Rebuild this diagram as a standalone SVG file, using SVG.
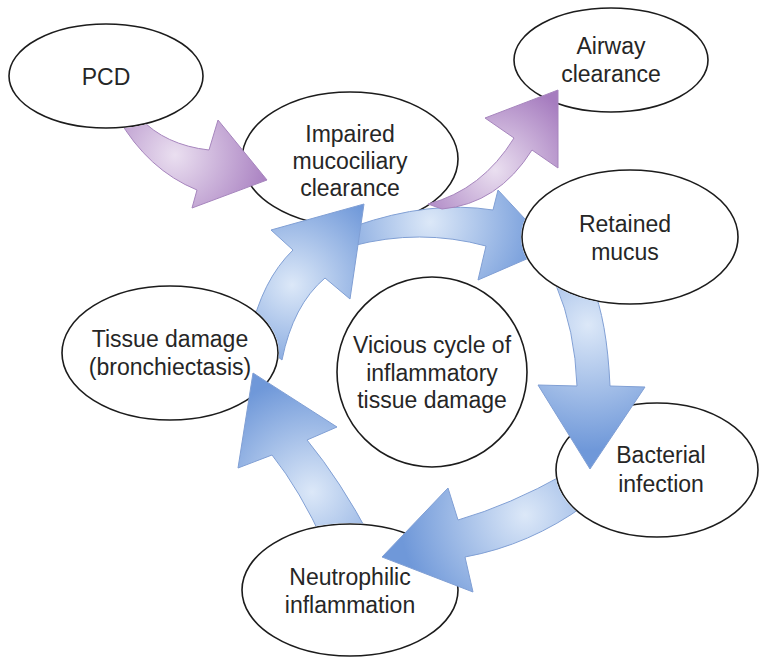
<svg xmlns="http://www.w3.org/2000/svg" width="760" height="658" viewBox="0 0 760 658">
  <style>
    .node ellipse, .node circle { fill:#ffffff; stroke:#1c1c1c; stroke-width:1.6; }
    .node text { font-family:"Liberation Sans", Arial, sans-serif; font-size:23px; fill:#262626; text-anchor:middle; }
    .blue { stroke:#809fd4; stroke-width:1; stroke-linejoin:round; }
    .purple { stroke:#a685bd; stroke-width:1; stroke-linejoin:round; }
  </style>
  <defs>
    <!-- shading for the cycle arrows: pale in the middle of the shaft, deeper blue towards the ends -->
    <radialGradient id="gA1" gradientUnits="userSpaceOnUse" cx="430" cy="222" r="115">
      <stop offset="0" stop-color="#dce8f8"/><stop offset="1" stop-color="#6f98d9"/>
    </radialGradient>
    <radialGradient id="gA2" gradientUnits="userSpaceOnUse" cx="588" cy="325" r="125">
      <stop offset="0" stop-color="#dce8f8"/><stop offset="1" stop-color="#6f98d9"/>
    </radialGradient>
    <radialGradient id="gA3" gradientUnits="userSpaceOnUse" cx="525" cy="515" r="125">
      <stop offset="0" stop-color="#dce8f8"/><stop offset="1" stop-color="#6f98d9"/>
    </radialGradient>
    <radialGradient id="gA4" gradientUnits="userSpaceOnUse" cx="312" cy="492" r="115">
      <stop offset="0" stop-color="#dce8f8"/><stop offset="1" stop-color="#6f98d9"/>
    </radialGradient>
    <radialGradient id="gA5" gradientUnits="userSpaceOnUse" cx="292" cy="285" r="105">
      <stop offset="0" stop-color="#dce8f8"/><stop offset="1" stop-color="#6f98d9"/>
    </radialGradient>
    <radialGradient id="gP1" gradientUnits="userSpaceOnUse" cx="175" cy="155" r="100">
      <stop offset="0" stop-color="#eadff0"/><stop offset="1" stop-color="#a67cbf"/>
    </radialGradient>
    <radialGradient id="gP2" gradientUnits="userSpaceOnUse" cx="495" cy="170" r="90">
      <stop offset="0" stop-color="#eadff0"/><stop offset="1" stop-color="#a67cbf"/>
    </radialGradient>
    <!-- masks hide the part of an arrow that runs underneath a node -->
    <mask id="mPCD" maskUnits="userSpaceOnUse" x="0" y="0" width="760" height="658">
      <rect width="760" height="658" fill="#fff"/><ellipse cx="106" cy="76" rx="98" ry="53" fill="#000"/>
    </mask>
    <mask id="mRet" maskUnits="userSpaceOnUse" x="0" y="0" width="760" height="658">
      <rect width="760" height="658" fill="#fff"/><ellipse cx="630" cy="237" rx="109" ry="68" fill="#000"/>
    </mask>
    <mask id="mBac" maskUnits="userSpaceOnUse" x="0" y="0" width="760" height="658">
      <rect width="760" height="658" fill="#fff"/><ellipse cx="657" cy="470" rx="102" ry="68" fill="#000"/>
    </mask>
    <mask id="mNeu" maskUnits="userSpaceOnUse" x="0" y="0" width="760" height="658">
      <rect width="760" height="658" fill="#fff"/><ellipse cx="350" cy="590" rx="109" ry="67" fill="#000"/>
    </mask>
    <mask id="mTis" maskUnits="userSpaceOnUse" x="0" y="0" width="760" height="658">
      <rect width="760" height="658" fill="#fff"/><ellipse cx="170" cy="353" rx="109" ry="68" fill="#000"/>
    </mask>
  </defs>

  <rect width="760" height="658" fill="#ffffff"/>

  <g id="nodes">
    <g id="pcd" class="node">
      <ellipse cx="106" cy="76" rx="97" ry="52"/>
      <text x="106" y="85">PCD</text>
    </g>
    <g id="impaired" class="node">
      <ellipse cx="350" cy="159" rx="108" ry="67"/>
      <text x="350" y="142">Impaired</text>
      <text x="350" y="169">mucociliary</text>
      <text x="350" y="196">clearance</text>
    </g>
    <g id="airway" class="node">
      <ellipse cx="611" cy="60" rx="97" ry="52"/>
      <text x="611" y="54">Airway</text>
      <text x="611" y="82">clearance</text>
    </g>
    <g id="retained" class="node">
      <ellipse cx="630" cy="237" rx="108" ry="67"/>
      <text x="625" y="232">Retained</text>
      <text x="625" y="260">mucus</text>
    </g>
    <g id="tissue" class="node">
      <ellipse cx="170" cy="353" rx="108" ry="67"/>
      <text x="170" y="347">Tissue damage</text>
      <text x="170" y="375">(bronchiectasis)</text>
    </g>
    <g id="vicious" class="node">
      <circle cx="432" cy="372" r="95"/>
      <text x="432" y="353">Vicious cycle of</text>
      <text x="432" y="381">inflammatory</text>
      <text x="432" y="408">tissue damage</text>
    </g>
    <g id="bacterial" class="node">
      <ellipse cx="657" cy="470" rx="101" ry="67"/>
      <text x="661" y="463">Bacterial</text>
      <text x="661" y="492">infection</text>
    </g>
    <g id="neutrophilic" class="node">
      <ellipse cx="350" cy="590" rx="108" ry="66"/>
      <text x="350" y="585">Neutrophilic</text>
      <text x="350" y="613">inflammation</text>
    </g>
  </g>

  <g id="connectors">
    <!-- impaired clearance -> retained mucus (tip tucked under the node) -->
    <path class="blue" fill="url(#gA1)" mask="url(#mRet)"
      d="M 355,226 Q 430,200 493,210 L 498,190 L 552,248 L 478,280 L 486,246 Q 420,228 352,246 Z"/>
    <!-- retained mucus -> bacterial infection -->
    <path class="blue" fill="url(#gA2)" mask="url(#mRet)"
      d="M 556,285 Q 575,330 577,386 L 538,385 L 590,469 L 645,387 L 610,386 Q 607,320 592,285 Z"/>
    <!-- bacterial infection -> neutrophilic inflammation -->
    <path class="blue" fill="url(#gA3)" mask="url(#mBac)"
      d="M 565,474 Q 510,505 458,520 L 448,488 L 382,557 L 473,592 L 465,557 Q 530,545 585,505 Z"/>
    <!-- neutrophilic inflammation -> tissue damage -->
    <path class="blue" fill="url(#gA4)" mask="url(#mNeu)"
      d="M 325,545 Q 300,490 272,455 L 238,468 L 253,373 L 337,427 L 307,440 Q 340,480 372,540 Z"/>
    <!-- tissue damage -> impaired clearance -->
    <path class="blue" fill="url(#gA5)" mask="url(#mTis)"
      d="M 250,335 Q 262,280 293,250 L 271,230 L 364,204 L 350,299 L 325,278 Q 293,305 282,360 Z"/>
    <!-- PCD -> impaired clearance -->
    <path class="purple" fill="url(#gP1)" mask="url(#mPCD)"
      d="M 140,118 Q 165,145 209,150 L 218,120 L 267,180 L 192,208 L 197,190 Q 148,170 118,118 Z"/>
    <!-- impaired clearance -> airway clearance -->
    <path class="purple" fill="url(#gP2)"
      d="M 428,204 Q 482,190 514,138 L 485,118 L 558,90 L 558,168 L 532,150 Q 498,204 442,209 Z"/>
  </g>
</svg>
